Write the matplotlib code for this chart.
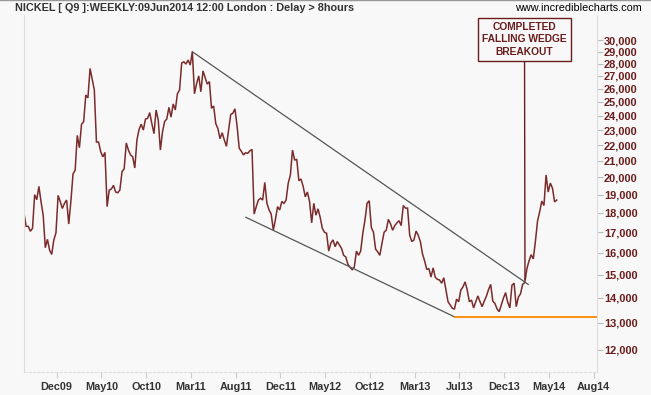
import matplotlib
matplotlib.use("Agg")
from matplotlib import pyplot as plt
from matplotlib.ticker import FixedLocator, NullLocator
from matplotlib.lines import Line2D
import numpy as np

# weekly nickel closes (USD/t)
price = [
    17980, 17300, 17300, 17050, 17200, 19000, 18720, 19470, 18600, 17880,
    16240, 16650, 16130, 15920, 16620, 16970, 18960, 18620, 18240, 18520,
    18700, 17420, 18620, 20200, 20430, 22640, 21830, 23400, 23580, 25510,
    25300, 27600, 26750, 25900, 22200, 22200, 21570, 21250, 21530, 18340,
    19260, 19320, 19530, 19150, 19110, 19260, 20340, 20500, 22140, 21680,
    21370, 21250, 20560, 22340, 23050, 23400, 23000, 23760, 23810, 24220,
    23440, 22760, 24410, 23700, 21680, 22880, 23600, 23760, 24600, 23900,
    24850, 24410, 25610, 25900, 28050, 28150, 27960, 28300, 27880, 29000,
    25610, 26390, 27000, 25760, 27400, 26880, 26350, 26550, 24530, 24700,
    23440, 23100, 22420, 22820, 22340, 21920, 23000, 24080,
    24180, 24490, 23260, 21800, 21600, 21370, 21510, 21470, 21630, 21720,
    17940, 18340, 18700, 18800, 18700, 19700, 18520, 18160, 17940,
    17110, 17660, 18340, 18160, 18620, 18520, 18700, 19660, 20130, 21680,
    21040, 21100, 19800, 19900, 19470, 18880, 19150, 18620, 17480, 18520,
    17880, 18220, 17760, 17200, 17000, 16950, 16080, 16460, 16620,
    16290, 16540, 16370, 16210, 15880, 15800, 15460, 15330, 15220, 15330,
    16080, 15880, 16080, 16950, 17620, 18520, 18660, 17240, 17000,
    16170, 16040, 15880, 16460, 17000, 17110, 17660,
    17430, 17100, 17340, 17480, 17590, 17340, 18400, 18260,
    18260, 16850, 16540, 16620, 17060, 16850, 16540, 15950,
    15620, 15230, 15270, 14890, 15300, 14880, 14790, 14760, 14620, 14860,
    14330, 13840, 13710, 13580, 13540, 13950, 13840, 14330, 14460,
    14680, 14330, 13840, 13910, 13590, 13840, 14080, 13840, 13640, 13870,
    14070, 14350, 14570, 13870, 13770, 13550, 13440, 13710,
    13990, 14220, 13820, 13590, 14540, 14620, 13640, 14030, 14170,
    14570, 14650, 15260, 15620, 15910, 15710, 16550, 17580,
    18060, 18640, 18400, 20140, 19150, 19660, 19370, 18600, 18700,
]

month_labels = ["Dec09", "May10", "Oct10", "Mar11", "Aug11", "Dec11", "May12",
                "Oct12", "Mar13", "Jul13", "Dec13", "May14", "Aug14"]
price_ticks = list(range(12000, 30001, 1000))

# wedge lines and support level (week index, price)
upper_wedge_x = [79, 236.6]
upper_wedge_y = [29000, 14570]
lower_wedge_x = [104.1, 202.2]
lower_wedge_y = [17770, 13230]
support_level = 13230
breakout_week = 235.1
breakout_price = 14780

BG = '#f8f8f8'
RED = '#6b1c1c'
LINE = '#7b2b2b'

x = np.arange(len(price))
x_right = 268.9
tick_idx = 15.3 + 21 * np.arange(len(month_labels))

fig = plt.figure(figsize=(6.51, 3.95), dpi=100, facecolor=BG)
ax = fig.add_axes([24/651, 1-372/395, (597-24)/651, (372-15)/395])
ax.set_facecolor(BG)

ax.plot(x, price, color=LINE, lw=1.1, solid_joinstyle='miter')
ax.plot(upper_wedge_x, upper_wedge_y, color='#555555', lw=0.9)
ax.plot(lower_wedge_x, lower_wedge_y, color='#555555', lw=0.9)
ax.plot([lower_wedge_x[1], x_right], [support_level, support_level], color='#ff8800', lw=1.3)

ax.set_yscale('log')
ax.set_ylim(11243, 32330)
ax.set_xlim(0, x_right)

ax.yaxis.tick_right()
ax.yaxis.set_major_locator(FixedLocator(price_ticks))
ax.yaxis.set_minor_locator(NullLocator())
ax.set_yticklabels([f'{v:,}' for v in price_ticks])
ax.set_xticks(tick_idx)
ax.set_xticklabels(month_labels)

ax.tick_params(axis='y', length=4, width=0.8, color='#bbbbbb', pad=1,
               labelsize=7.9, labelcolor=RED)
ax.tick_params(axis='x', length=4, width=0.8, color='#cccccc', pad=3,
               labelsize=7.8, labelcolor='#333333')
for lab in ax.get_xticklabels() + ax.get_yticklabels():
    lab.set_fontweight('bold')
    lab.set_family('Liberation Sans')

ax.spines['top'].set_visible(False)
ax.spines['left'].set_color('#dddddd')
ax.spines['right'].set_color('#dddddd')
ax.spines['bottom'].set_color('#dddddd')
ax.spines['bottom'].set_linestyle((0, (2, 2)))

fig.text(15/651, 1-8/395, 'NICKEL [ Q9 ]:WEEKLY:09Jun2014 12:00 London : Delay > 8hours',
         family='Liberation Sans', fontsize=7.8, fontweight='bold', color='#333333',
         ha='left', va='center')
fig.text(642/651, 1-8/395, 'www.incrediblecharts.com', family='Liberation Sans',
         fontsize=7.8, color='#000000', ha='right', va='center')
fig.add_artist(Line2D([0, 1], [0.999, 0.999], color='#999999', lw=1))

ax.annotate('COMPLETED\nFALLING WEDGE\nBREAKOUT',
            xy=(breakout_week, breakout_price), xycoords='data',
            xytext=(524.5, 395-39.5), textcoords='figure pixels',
            ha='center', va='center', family='Liberation Sans', fontsize=7.4,
            fontweight='bold', color=RED, linespacing=1.35,
            bbox=dict(boxstyle='square,pad=0.4', fc=BG, ec=RED, lw=1),
            arrowprops=dict(arrowstyle='-', color=RED, lw=1, shrinkA=0, shrinkB=0))

fig.savefig('out.png', dpi=100, facecolor=BG)
